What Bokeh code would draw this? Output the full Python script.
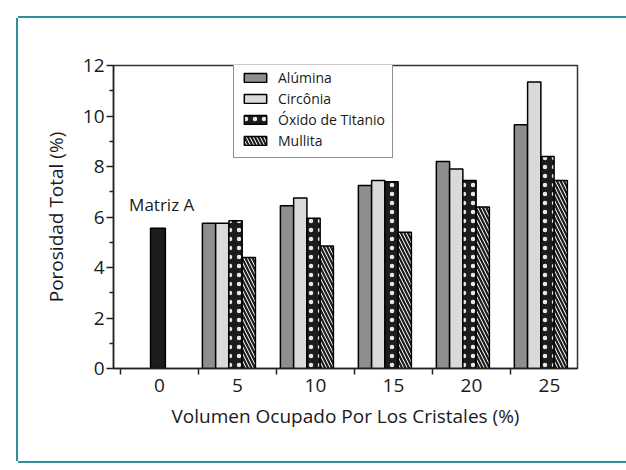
import numpy as np
from bokeh.plotting import figure
from bokeh.models import Range1d, FixedTicker, Legend, LegendItem, Label
from bokeh.embed import file_html
from bokeh.resources import INLINE

# ---- data ----
volumes = [5, 10, 15, 20, 25]
alumina = [5.75, 6.45, 7.25, 8.2, 9.65]
circonia = [5.75, 6.75, 7.45, 7.9, 11.35]
oxido_titanio = [5.85, 5.95, 7.4, 7.45, 8.4]
mullita = [4.4, 4.85, 5.4, 6.4, 7.45]
matriz_x = [0]
matriz_y = [5.55]
series_names = ["Alúmina", "Circônia", "Óxido de Titanio", "Mullita"]
x_ticks = [0, 5, 10, 15, 20, 25]
x_boundaries = [-2.5, 2.5, 7.5, 12.5, 17.5, 22.5]
y_ticks = [0, 2, 4, 6, 8, 10, 12]
y_minor = [1, 3, 5, 7, 9, 11]

FONT = "Open Sans"
TXT = "#1a1a1a"
OX, OY = 18, 18  # canvas offset inside page (outer frame)
TEAL = "#2f8fa0"

p = figure(width=626 - OX, height=461 - OY, output_backend="svg", toolbar_location=None,
           x_range=Range1d(-2.95, 26.8), y_range=Range1d(0, 12),
           min_border_left=113 - OX, min_border_right=626 - 577, min_border_top=65 - OY,
           min_border_bottom=461 - 368)
p.margin = (OY, 0, 0, OX)
p.styles = {"box-shadow": f"-2px 0 0 0 {TEAL}, 0 -2px 0 0 {TEAL}, 0 2px 0 0 {TEAL}"}
p.background_fill_color = "white"
p.border_fill_color = "white"
p.grid.visible = False
p.outline_line_color = "#333333"
p.outline_line_width = 1.5

vx = np.array(volumes, dtype=float)
bw = 0.85
goff = -0.55
offs = [goff + k * bw for k in (-1.5, -0.5, 0.5, 1.5)]

common = dict(bottom=0, width=bw, line_color="black", line_width=1.5)
r1 = p.vbar(x=vx + offs[0], top=alumina, fill_color="#8e8e8e", **common)
r2 = p.vbar(x=vx + offs[1], top=circonia, fill_color="#d8dbd8", **common)
r3 = p.vbar(x=vx + offs[2], top=oxido_titanio, fill_color="#1c1c1c",
            hatch_pattern="dot", hatch_color="#e8e8e8", hatch_scale=9, hatch_weight=0.8,
            **common)
r4 = p.vbar(x=vx + offs[3], top=mullita, fill_color="white",
            hatch_pattern="left_diagonal_line", hatch_color="#1c1c1c", hatch_scale=7,
            hatch_weight=2.2, **common)
p.vbar(x=np.array(matriz_x) - 0.1, top=matriz_y, bottom=0, width=0.95,
       fill_color="#1c1c1c", line_color="black", line_width=1.5)

# axes
xa = p.xaxis[0]
xa.ticker = FixedTicker(ticks=x_ticks, minor_ticks=x_boundaries)
xa.major_tick_line_color = None
xa.major_tick_out = 0
xa.major_tick_in = 0
xa.minor_tick_out = 6
xa.minor_tick_in = 0
xa.minor_tick_line_color = "#222222"
xa.minor_tick_line_width = 1.5
xa.major_label_standoff = 4
xa.axis_line_width = 1.5
xa.axis_line_color = "#222222"
xa.axis_label = "Volumen Ocupado Por Los Cristales (%)"
xa.axis_label_standoff = 8

ya = p.yaxis[0]
ya.ticker = FixedTicker(ticks=y_ticks, minor_ticks=y_minor)
ya.major_tick_out = 7
ya.major_tick_in = 0
ya.minor_tick_out = 4
ya.minor_tick_in = 0
ya.major_tick_line_width = 1.5
ya.minor_tick_line_width = 1.5
ya.major_tick_line_color = "#222222"
ya.minor_tick_line_color = "#222222"
ya.major_label_standoff = 2
ya.axis_line_width = 1.5
ya.axis_line_color = "#222222"
ya.axis_label = "Porosidad Total (%)"
ya.axis_label_standoff = 11

for ax in (xa, ya):
    ax.major_label_text_font = FONT
    ax.major_label_text_font_size = "19px"
    ax.major_label_text_color = TXT
    ax.axis_label_text_font = FONT
    ax.axis_label_text_font_size = "19px"
    ax.axis_label_text_font_style = "normal"
    ax.axis_label_text_color = TXT

legend = Legend(items=[LegendItem(label=series_names[0], renderers=[r1]),
                       LegendItem(label=series_names[1], renderers=[r2]),
                       LegendItem(label=series_names[2], renderers=[r3]),
                       LegendItem(label=series_names[3], renderers=[r4])],
                location=(120, 210))
legend.glyph_width = 28
legend.glyph_height = 11
legend.label_height = 15
legend.label_standoff = 9
legend.spacing = 2
legend.padding = 7
legend.margin = 0
legend.label_text_font = FONT
legend.label_text_font_size = "14px"
legend.label_text_color = TXT
legend.border_line_color = "#222222"
legend.border_line_width = 1.3
legend.background_fill_color = "white"
legend.background_fill_alpha = 1
p.add_layout(legend)

p.add_layout(Label(x=-1.95, y=6.05, text="Matriz A", text_font=FONT,
                   text_font_size="17px", text_color=TXT))

open("out.html", "w").write(file_html(p, INLINE))
